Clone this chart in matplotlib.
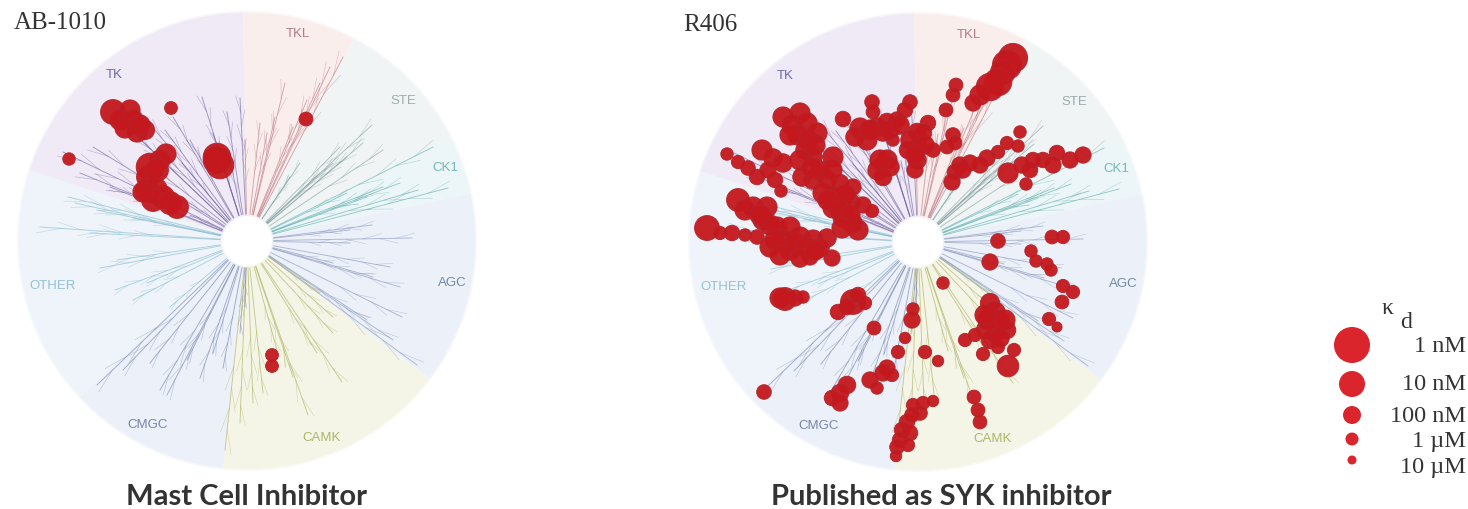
import numpy as np
import matplotlib
matplotlib.use('Agg')
import matplotlib.pyplot as plt
from matplotlib.patches import Wedge, Circle

# ---- tree layout (picture pixels) ----
center_a = (247, 241)
center_b = (918, 242)
shift_b = (671, 1)
tree_radius = 230
hole_radius = 25
hit_scale = 1.12

# kinase groups, edges in degrees (counter clockwise from east)
groups = ['TKL', 'STE', 'CK1', 'AGC', 'CAMK', 'CMGC', 'OTHER', 'TK']
group_from = [91, 62, 27, 12, -37, -96, -137, -198]
group_to = [62, 27, 12, -37, -96, -137, -198, -269]
group_bg = ['#faeeed', '#f0f4f4', '#ecf6f8', '#ecf0f8', '#f4f5e7', '#ecf0f8', '#eef4f9', '#efeaf5']
group_line = ['#b5707c', '#7f9c9c', '#5aa9a9', '#7f8fb8', '#a6ab50', '#6c7ba6', '#7db6cc', '#6a5a9c']
label_color = ['#a0606c', '#8a9a9c', '#5aa8a0', '#52708e', '#9aa84a', '#5a6a9c', '#80b4cc', '#4a4a9c']
label_a_xy = [(298, 34), (403, 101), (445, 168), (452, 283), (322, 438), (148, 425), (53, 286), (114, 75)]

# branch tips
tips = {
    'TK': [(202,97),(240,98),(227,112),(213,133),(173,117),(182,163),(93,147),(63,152),(80,173),(110,187),
           (140,112),(110,110),(125,125),(160,150),(150,165),(165,130),(190,140),(218,150),(230,160),(185,200),(190,215)],
    'TKL': [(343,57),(330,67),(320,83),(285,83),(307,100),(260,123),(245,140),(275,117),(293,127),(267,133)],
    'STE': [(372,125),(383,150),(347,157),(333,163),(300,163),(290,177),(320,173),(363,143),(340,147)],
    'CK1': [(433,147),(448,188),(418,190),(400,183),(383,187),(367,197),(347,193)],
    'AGC': [(412,238),(372,225),(350,230),(390,267),(400,287),(402,317),(417,365),(393,340),(367,320),(350,243),(333,263),(373,277)],
    'CAMK': [(225,450),(308,415),(342,382),(333,333),(263,393),(253,403),(240,423),(293,377),(317,353),(333,317),(320,293),(277,350)],
    'CMGC': [(97,385),(123,370),(160,390),(167,395),(200,378),(223,368),(245,307),(240,333),(213,353),(187,360),(150,363)],
    'OTHER': [(40,227),(68,197),(100,268),(115,290),(133,300),(170,307),(97,210),(133,218),(117,260),(147,283),(90,233),(75,203)],
}

# hits: (x, y, Kd in nM)
ab1010_hits = [
    (113,112,30),(130,110,100),(120,120,100),(133,120,100),(125,128,100),(137,132,100),(145,130,150),(140,125,100),
    (171,108,2500),(69,159,3000),(306,119,1500),
    (217,157,15),(220,165,15),(217,160,15),
    (166,154,100),(160,160,100),(150,167,15),(148,177,50),(157,170,50),(147,190,50),(155,190,30),(163,197,50),
    (153,200,50),(170,203,50),(177,207,50),(143,192,100),
    (272,355,2500),(272,366,2500),
]
r406_tkl = [(1013,58,10),(1007,65,10),(1003,72,30),(998,82,15),(990,87,15),(980,95,100),(973,103,500),
            (956,85,1500),(953,95,1500),(946,110,1500),(953,135,1000),(947,147,1500),(955,143,1500)]
r406_tk_top = [(843,119,700),(872,102,1000),(873,112,1500),(910,102,1000),(905,110,700),(897,120,500),(860,128,100),
               (855,137,200),(867,140,100),(877,127,200),(887,122,300),(883,132,200),(928,123,700),(917,132,300),
               (923,133,300),(910,140,200),(918,147,200),(933,150,1000),(908,150,300),(917,160,200),(915,170,500),
               (893,140,3000),(887,160,100),(878,170,100),(890,167,200),(883,177,300),
               (890,130,200),(900,125,200),(925,145,200),(915,155,200),(880,160,100),(870,130,100)]
r406_tk_main = [(783,117,100),(800,113,100),(792,125,100),(807,123,100),(817,133,100),(798,135,100),(808,140,100),
                (805,150,200),(813,157,200),(833,157,100),(820,170,200),(802,177,200),(813,180,200),(827,180,200),
                (840,183,300),(853,187,500),(823,193,100),(837,197,100),(850,203,100),(863,205,500),(872,211,2000),
                (843,217,100),(858,230,100),(852,223,100),(833,208,100),
                (790,135,100),(815,145,100),(800,160,100),(812,168,100),(832,170,100),(845,195,100),(828,200,100),
                (840,210,100),(850,215,100),(842,228,100)]
r406_tk_chain = [(727,154,3000),(738,162,2000),(748,168,1000),(757,177,700),(762,150,100),(773,158,200),(783,163,200),
                 (775,180,700),(781,191,3000),(768,170,500)]
r406_tk_low = [(738,200,50),(753,207,100),(767,207,100),(763,220,100),(777,227,100),(790,227,100),(783,240,100),
               (800,237,100),(813,240,100),(827,238,200),(770,247,100),(790,250,100),(810,257,500),(832,258,500),
               (820,248,200),(707,228,30),(720,233,2000),(732,233,700),(745,235,3000),(757,237,1000),
               (745,210,100),(770,225,100),(775,240,100),(795,243,100),(805,247,100),(780,255,100),(800,258,200),
               (815,250,100),(760,215,100)]
r406_ste = [(1020,132,3000),(1018,146,3000),(1007,143,2000),(998,152,2000),(987,158,500),(980,165,500),(970,163,500),
            (960,165,500),(955,172,700),(952,182,500),(963,170,500)]
r406_ck1 = [(1083,155,500),(1070,160,500),(1057,153,700),(1053,165,500),(1043,160,700),(1033,160,700),(1022,165,500),
            (1030,170,700),(1008,173,100),(1026,184,3000)]
r406_agc = [(998,241,1000),(1052,237,1500),(1063,237,2000),(1031,251,3000),(1036,261,3000),(1047,264,3000),(1051,270,3000),
            (990,262,500),(1063,286,2000),(1073,292,2000),(1062,302,1500),(1049,319,2000),(1057,327,10000)]
r406_other = [(785,299,50),(795,298,500),(803,297,3000),(780,298,100),(853,302,30),(858,295,700),(865,303,2000),
              (847,307,700),(838,312,700)]
r406_cmgc = [(764,392,1000),(874,328,1500),(913,309,3000),(912,320,500),(905,338,5000),(898,352,2000),(887,368,500),
             (892,375,2000),(870,380,500),(877,388,3000),(883,373,500),(847,385,300),(840,393,300),(832,398,700),(840,403,500)]
r406_camk = [(943,283,3000),(925,352,2000),(938,361,5000),(974,397,1500),(978,410,1500),(980,422,1500),
             (933,401,5000),(923,403,2000),(913,405,2000),(920,413,1000),(907,422,700),(912,415,1000),(902,430,700),
             (910,433,700),(900,440,700),(908,445,2000),(897,447,1000),(896,456,5000),
             (990,303,150),(995,312,100),(1000,320,150),(1007,330,300),(995,333,200),(985,330,300),(975,335,2000),
             (965,340,2000),(990,340,300),(998,347,2000),(983,354,2000),(1014,350,2000),(1008,366,70),
             (988,320,100),(1000,338,200),(1005,320,100),(985,315,100)]

# legend
kd_values = [1, 10, 100, 1000, 10000]
kd_labels = ['1 nM', '10 nM', '100 nM', '1 µM', '10 µM']
kd_diam = [36, 26, 18, 13, 9]
legend_dot_y = [345, 384, 415, 439, 460]
legend_text_y = [347, 385, 417, 442, 467]


def diam(kd):
    return np.interp(np.log10(kd), np.log10(kd_values), kd_diam)


def draw_tree(ax, cx, cy, dx, dy):
    for i, g in enumerate(groups):
        # y axis points down, so the angles flip
        ax.add_patch(Wedge((cx, cy), tree_radius, -group_from[i], -group_to[i],
                           facecolor=group_bg[i], edgecolor='none', zorder=1))
        for (tx, ty) in tips.get(g, []):
            vx, vy = tx - 247, ty - 241
            L = np.hypot(vx, vy)
            ux, uy = vx / L, vy / L
            ax.plot([cx + ux * 27, cx + vx], [cy + uy * 27, cy + vy],
                    color=group_line[i], lw=0.65, alpha=0.6, zorder=2)
            # small leaves along the outer part of the branch
            for k, fr in enumerate([0.6, 0.7, 0.8, 0.9]):
                side = 1 if k % 2 == 0 else -1
                a = np.arctan2(vy, vx) + side * 0.25
                px, py = cx + vx * fr, cy + vy * fr
                ax.plot([px, px + 0.12 * L * np.cos(a)], [py, py + 0.12 * L * np.sin(a)],
                        color=group_line[i], lw=0.45, alpha=0.4, zorder=2)
    ax.add_patch(Circle((cx, cy), tree_radius, fill=False, edgecolor='white', lw=2.5, alpha=0.5, zorder=2))
    ax.add_patch(Circle((cx, cy), hole_radius, facecolor='white', edgecolor='none', zorder=3))
    for i, g in enumerate(groups):
        ax.text(label_a_xy[i][0] + dx, label_a_xy[i][1] + dy, g, color=label_color[i], fontsize=9.5,
                ha='center', va='center', family='Liberation Sans', alpha=0.8, zorder=5)


def draw_hits(ax, hits):
    hits = np.array(hits, dtype=float)
    d = diam(hits[:, 2]) * hit_scale
    ax.scatter(hits[:, 0], hits[:, 1], s=(d * 0.72) ** 2, facecolor='#c4181e', edgecolor='#b3242a',
               linewidth=0.7, alpha=0.95, zorder=4)


fig = plt.figure(figsize=(14.68, 5.09), dpi=100, facecolor='white')
ax = fig.add_axes([0, 0, 1, 1])
ax.set_xlim(0, 1468)
ax.set_ylim(509, 0)
ax.axis('off')

draw_tree(ax, center_a[0], center_a[1], 0, 0)
draw_tree(ax, center_b[0], center_b[1], shift_b[0], shift_b[1])

draw_hits(ax, ab1010_hits)
for h in [r406_tkl, r406_tk_top, r406_tk_main, r406_tk_chain, r406_tk_low, r406_ste, r406_ck1,
          r406_agc, r406_other, r406_cmgc, r406_camk]:
    draw_hits(ax, h)

ax.text(14, 23, 'AB-1010', fontsize=18, family='Liberation Serif', color='#333333', va='center', ha='left')
ax.text(683, 25, 'R406', fontsize=18, family='Liberation Serif', color='#333333', va='center', ha='left')
ax.text(247, 497, 'Mast Cell Inhibitor', fontsize=21, family='Lato', fontweight='bold',
        color='#333333', ha='center', va='center')
ax.text(941, 497, 'Published as SYK inhibitor', fontsize=21, family='Lato', fontweight='bold',
        color='#333333', ha='center', va='center')

# Kd legend
ax.scatter([1352] * 5, legend_dot_y, s=[(v * 0.72) ** 2 for v in kd_diam], facecolor='#d9252b',
           edgecolor='none', zorder=4)
for lab, y in zip(kd_labels, legend_text_y):
    ax.text(1466, y, lab, fontsize=17.5, family='Liberation Serif', color='#333333', ha='right', va='center')
ax.text(1387, 309, 'κ', fontsize=17, family='Liberation Serif', color='#333333', ha='center', va='center')
ax.text(1406, 323, 'd', fontsize=17, family='Liberation Serif', color='#333333', ha='center', va='center')

fig.savefig('out.png', dpi=100)
